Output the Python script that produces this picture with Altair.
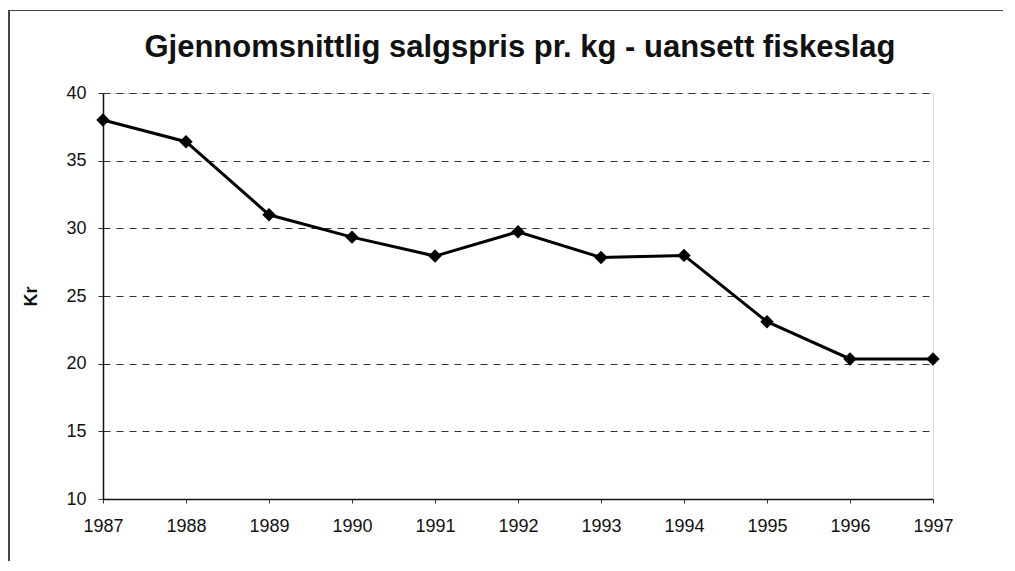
import altair as alt
import pandas as pd

years = [1987, 1988, 1989, 1990, 1991, 1992, 1993, 1994, 1995, 1996, 1997]
prices = [38.0, 36.4, 31.0, 29.35, 27.95, 29.75, 27.85, 28.0, 23.1, 20.35, 20.35]
title_text = "Gjennomsnittlig salgspris pr. kg - uansett fiskeslag"

df = pd.DataFrame({"year": years, "price": prices})

FONT = "Liberation Sans"

x_enc = alt.X("year:O", scale=alt.Scale(type="point", padding=0),
              axis=alt.Axis(title=None, labelAngle=0, labelFontSize=18, labelFont=FONT,
                            labelColor="#111", tickSize=4, tickColor="#333",
                            labelPadding=14, domainColor="#111", domainWidth=1.5,
                            grid=False))
y_enc = alt.Y("price:Q", scale=alt.Scale(domain=[10, 40], nice=False, zero=False),
              axis=alt.Axis(title="Kr", values=[10, 15, 20, 25, 30, 35, 40],
                            labelFontSize=18, labelFont=FONT, labelColor="#111",
                            tickSize=5, tickColor="#333", labelPadding=12,
                            domainColor="#111", domainWidth=1.5,
                            grid=True, gridDash=[7, 6], gridColor="#333", gridWidth=1,
                            titleFont=FONT, titleFontSize=18, titleFontWeight="bold",
                            titleColor="#111", titleAngle=-90, titleX=-72, titleY=203,
                            titleAlign="center", titleBaseline="middle"))

line = alt.Chart(df).mark_line(color="#000", strokeWidth=3).encode(x=x_enc, y=y_enc)
pts = alt.Chart(df).mark_point(shape="diamond", filled=True, color="#000", size=180, opacity=1).encode(
    x="year:O", y="price:Q")

title = alt.Chart(df.head(1)).mark_text(font=FONT, fontSize=31, fontWeight="bold", color="#111",
                                        align="center", baseline="alphabetic", clip=False).encode(
    x=alt.value(417), y=alt.value(-36), text=alt.value(title_text))

frame_left = alt.Chart(df).mark_rule(color="#444", strokeWidth=1, clip=False).encode(
    x=alt.value(-94), y=alt.value(-82.5), y2=alt.value(600))
frame_top = alt.Chart(df).mark_rule(color="#444", strokeWidth=1, clip=False).encode(
    x=alt.value(-94), x2=alt.value(1000), y=alt.value(-82.5))

chart = alt.layer(line, pts, title, frame_left, frame_top).properties(
    width=830, height=406,
    autosize=alt.AutoSizeParams(type="none"),
    padding={"left": 95, "top": 85, "right": 70, "bottom": 62},
).configure_view(stroke="#111", strokeWidth=1.5).configure(background="white")

chart.save("out.html", embed_options={"renderer": "svg", "actions": False})
